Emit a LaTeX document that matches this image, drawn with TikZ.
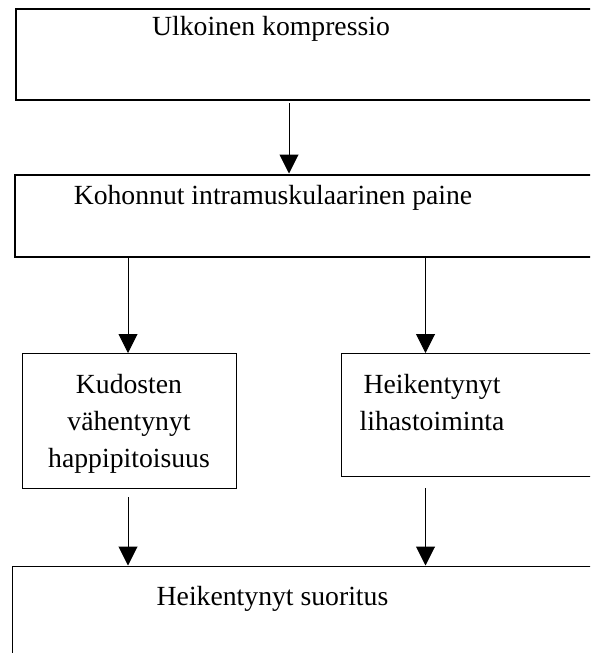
\documentclass[tikz,border=0pt]{standalone}
\usepackage{fontspec}
\setmainfont{Liberation Serif}
\usetikzlibrary{arrows.meta}
\tikzset{
  thickbox/.style={draw=black, line width=2pt, inner sep=0pt, anchor=north west},
  thinbox/.style={draw=black, line width=1.1pt, inner sep=0pt, anchor=north west},
  lbl/.style={inner sep=0pt, font=\fontsize{27.7}{37}\selectfont, align=center},
  arr/.style={line width=1pt, -{Triangle[length=19pt,width=19pt]}}
}
\begin{document}
\begin{tikzpicture}[x=1pt,y=-1pt]
\useasboundingbox (0,0) rectangle (590,653);
\clip (0,0) rectangle (590,653);
% boxes
\node[thickbox, minimum width=600pt, minimum height=91pt] (b1) at (14.5,7.5) {};
\node[thickbox, minimum width=600pt, minimum height=82pt] (b2) at (13.5,173.5) {};
\node[thinbox, minimum width=214pt, minimum height=135pt] (b3) at (22,353) {};
\node[thinbox, minimum width=270pt, minimum height=123pt] (b4) at (340.5,353) {};
\node[draw=black, line width=1.4pt, inner sep=0pt, anchor=north west, minimum width=600pt, minimum height=120pt] (b5) at (11.5,565.5) {};
% texts
\node[lbl, anchor=base] (t1) at (271,35) {Ulkoinen kompressio};
\node[lbl, anchor=base] (t2) at (273,204) {Kohonnut intramuskulaarinen paine};
\node[lbl, anchor=base] (t3) at (129,467) {Kudosten\\vähentynyt\\happipitoisuus};
\node[lbl, anchor=base] (t4) at (432,430) {Heikentynyt\\lihastoiminta};
\node[lbl, anchor=base] (t5) at (272.5,605) {Heikentynyt suoritus};
% connector end points
\coordinate (a1s) at (289,103);
\coordinate (a2s) at (128,256);
\coordinate (a3s) at (425.5,256);
\coordinate (a4s) at (128,497);
\coordinate (a5s) at (425.5,488);
\draw[arr] (a1s) -- (a1s |- b2.north);
\draw[arr] (a2s) -- (a2s |- b3.north);
\draw[arr] (a3s) -- (a3s |- b4.north);
\draw[arr] (a4s) -- (a4s |- b5.north);
\draw[arr] (a5s) -- (a5s |- b5.north);
\end{tikzpicture}
\end{document}
